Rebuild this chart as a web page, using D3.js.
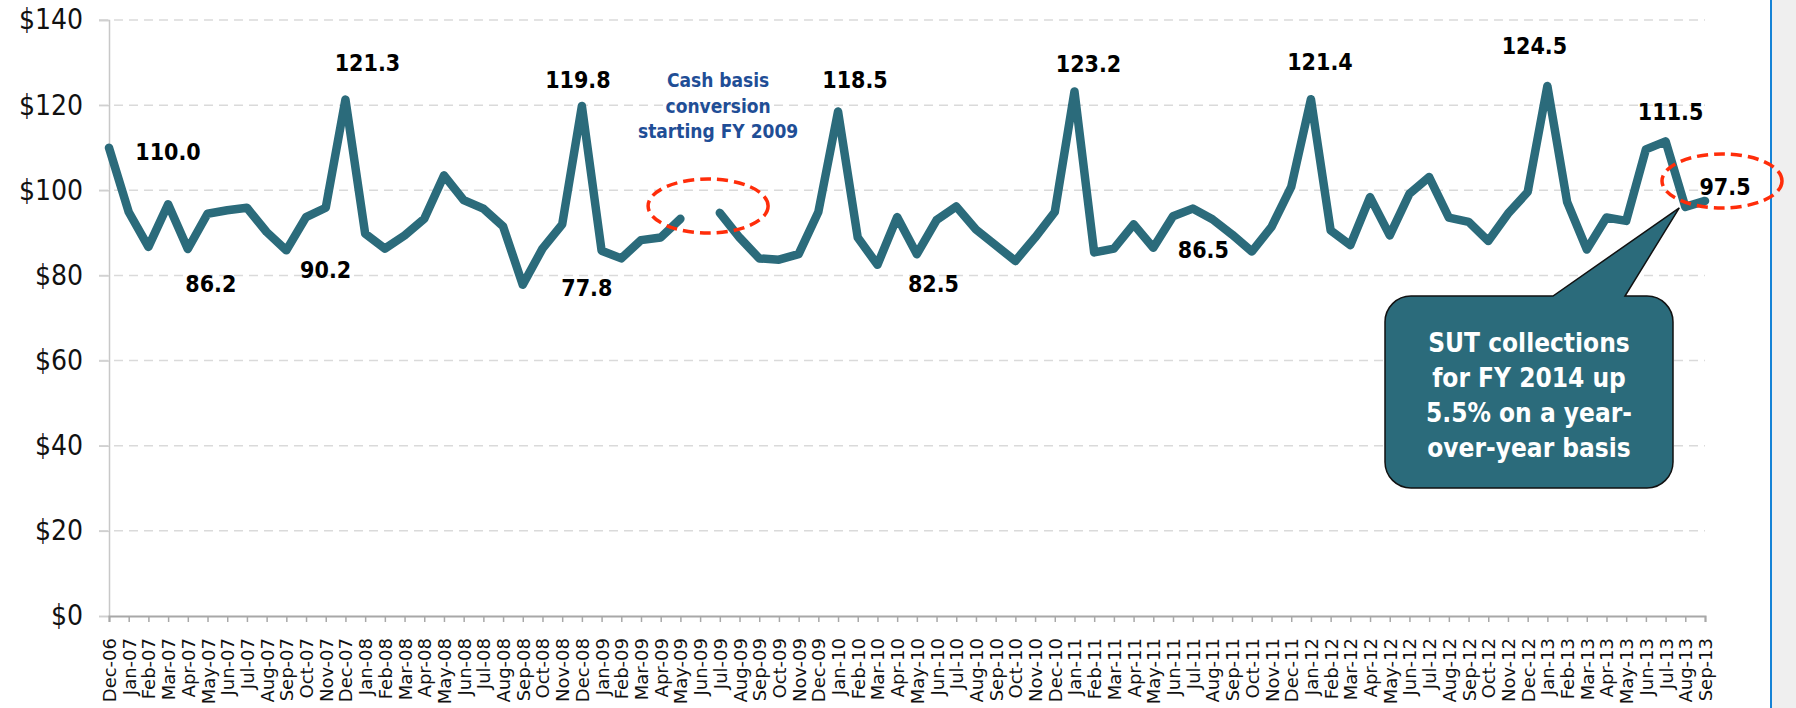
<!DOCTYPE html>
<html>
<head>
<meta charset="utf-8">
<script src="https://cdn.jsdelivr.net/npm/d3@7"></script>
<style>
  body { margin: 0; background: #fff; }
  #viz { width: 1796px; height: 708px; overflow: hidden; }
</style>
</head>
<body>
<div id="viz"></div>
<script>
// month categories (x axis)
const months = [
  "Dec-06",
  "Jan-07","Feb-07","Mar-07","Apr-07","May-07","Jun-07","Jul-07","Aug-07","Sep-07","Oct-07","Nov-07","Dec-07",
  "Jan-08","Feb-08","Mar-08","Apr-08","May-08","Jun-08","Jul-08","Aug-08","Sep-08","Oct-08","Nov-08","Dec-08",
  "Jan-09","Feb-09","Mar-09","Apr-09","May-09","Jun-09","Jul-09","Aug-09","Sep-09","Oct-09","Nov-09","Dec-09",
  "Jan-10","Feb-10","Mar-10","Apr-10","May-10","Jun-10","Jul-10","Aug-10","Sep-10","Oct-10","Nov-10","Dec-10",
  "Jan-11","Feb-11","Mar-11","Apr-11","May-11","Jun-11","Jul-11","Aug-11","Sep-11","Oct-11","Nov-11","Dec-11",
  "Jan-12","Feb-12","Mar-12","Apr-12","May-12","Jun-12","Jul-12","Aug-12","Sep-12","Oct-12","Nov-12","Dec-12",
  "Jan-13","Feb-13","Mar-13","Apr-13","May-13","Jun-13","Jul-13","Aug-13","Sep-13"
];

// monthly SUT collections ($ millions), null = gap at cash basis conversion
const collections = [
  110.0,
  94.9, 86.7, 96.7, 86.2, 94.5, 95.3, 95.9, 90.2, 85.9, 93.7, 95.9, 121.3,
  89.8, 86.3, 89.4, 93.3, 103.5, 97.7, 95.7, 91.5, 77.8, 86.3, 92.0, 119.8,
  85.8, 84.0, 88.3, 88.9, 93.3, null, 94.7, 88.9, 84.0, 83.7, 85.0, 94.9,
  118.5, 88.9, 82.5, 93.7, 85.0, 93.0, 96.2, 90.8, 87.1, 83.4, 88.9, 94.9,
  123.2, 85.4, 86.3, 92.0, 86.5, 93.9, 95.7, 93.2, 89.6, 85.6, 91.4, 100.8,
  121.4, 90.6, 87.1, 98.4, 89.4, 99.2, 103.1, 93.6, 92.6, 88.1, 94.5, 99.6,
  124.5, 97.3, 86.1, 93.6, 92.8, 109.6, 111.5, 96.1, 97.5
];

// y axis ticks
const yTicks = [0, 20, 40, 60, 80, 100, 120, 140];

// months that carry a value label
const labelledMonths = ["Dec-06","Apr-07","Aug-07","Dec-07","Sep-08","Dec-08","Jan-10","Mar-10",
                        "Jan-11","May-11","Jan-12","Jan-13","Jul-13","Sep-13"];

const noteLines = ["Cash basis", "conversion", "starting FY 2009"];
const calloutLines = ["SUT collections", "for FY 2014 up", "5.5% on a year-", "over-year basis"];

function renderChart() {
  const width = 1796, height = 708;
  const TEAL = "#2b6b7b";
  const RED = "#ff2d0a";

  const svg = d3.select("#viz").append("svg")
    .attr("width", width)
    .attr("height", height)
    .style("display", "block");

  // right edge panel (slide border)
  svg.append("rect").attr("x", 1772).attr("y", 0).attr("width", 24).attr("height", height).attr("fill", "#efefef");
  svg.append("line").attr("x1", 1771).attr("x2", 1771).attr("y1", 0).attr("y2", height)
    .attr("stroke", "#1583d6").attr("stroke-width", 2);

  const x = d3.scalePoint().domain(months).range([109, 1705]);
  const y = d3.scaleLinear().domain([0, 140]).range([616, 20]);

  // gridlines
  svg.append("g")
    .selectAll("line")
    .data(yTicks.slice(1))
    .join("line")
    .attr("x1", 99).attr("x2", 1705)
    .attr("y1", d => y(d)).attr("y2", d => y(d))
    .attr("stroke", "#dadada").attr("stroke-width", 1.5)
    .attr("stroke-dasharray", "9,6");

  // y axis
  const yAxis = svg.append("g")
    .attr("transform", "translate(109,0)")
    .call(d3.axisLeft(y).tickValues(yTicks).tickFormat(d => "$" + d).tickSize(10).tickPadding(16));
  yAxis.select(".domain").attr("stroke", "#c8c8c8").attr("stroke-width", 1.5);
  yAxis.selectAll(".tick line").attr("stroke", "#d0d0d0").attr("stroke-width", 1.5);
  yAxis.selectAll("text")
    .attr("font-family", "DejaVu Sans Condensed, DejaVu Sans, sans-serif")
    .attr("font-size", 28)
    .attr("fill", "#111");

  // x axis
  const xAxis = svg.append("g")
    .attr("transform", "translate(0,616)")
    .call(d3.axisBottom(x).tickSizeOuter(0).tickSize(6));
  xAxis.select(".domain").attr("stroke", "#a8a8a8").attr("stroke-width", 2);
  xAxis.selectAll(".tick line").attr("stroke", "#a8a8a8").attr("stroke-width", 1.5);
  xAxis.selectAll("text")
    .attr("font-family", "DejaVu Sans, sans-serif")
    .attr("font-size", 18)
    .attr("fill", "#111")
    .attr("text-anchor", "end")
    .attr("transform", "rotate(-90)")
    .attr("x", -22)
    .attr("y", 0)
    .attr("dy", "0.36em");

  // the line
  const pts = months.map((m, i) => ({ m, v: collections[i] }));
  const line = d3.line()
    .defined(d => d.v != null)
    .x(d => x(d.m))
    .y(d => y(d.v));

  svg.append("path")
    .datum(pts)
    .attr("d", line)
    .attr("fill", "none")
    .attr("stroke", TEAL)
    .attr("stroke-width", 8.5)
    .attr("stroke-linejoin", "round")
    .attr("stroke-linecap", "round");

  // value labels (offsets from their point)
  const offsets = {
    "Dec-06": [59, 12], "Apr-07": [23, 43], "Aug-07": [59, 46], "Dec-07": [22, -29],
    "Sep-08": [64, 11], "Dec-08": [-4, -18], "Jan-10": [17, -24], "Mar-10": [56, 27],
    "Jan-11": [14, -20], "May-11": [50, 10], "Jan-12": [9, -29], "Jan-13": [-13, -32],
    "Jul-13": [5, -21], "Sep-13": [20, -6]
  };
  svg.append("g")
    .selectAll("text")
    .data(labelledMonths)
    .join("text")
    .attr("x", m => x(m) + offsets[m][0])
    .attr("y", m => y(collections[months.indexOf(m)]) + offsets[m][1])
    .attr("text-anchor", "middle")
    .attr("font-family", "DejaVu Sans Condensed, DejaVu Sans, sans-serif")
    .attr("font-weight", "bold")
    .attr("font-size", 23)
    .attr("fill", "#000")
    .text(m => collections[months.indexOf(m)].toFixed(1));

  // red dashed ellipses
  const ellipses = [
    { cx: x("Jun-09") + 8, cy: y(96.3) },
    { cx: x("Sep-13") + 17, cy: y(102.2) }
  ];
  svg.append("g")
    .selectAll("ellipse")
    .data(ellipses)
    .join("ellipse")
    .attr("cx", d => d.cx).attr("cy", d => d.cy)
    .attr("rx", 60).attr("ry", 27)
    .attr("fill", "none")
    .attr("stroke", RED)
    .attr("stroke-width", 3.5)
    .attr("stroke-dasharray", "11,6");

  // cash basis note
  svg.append("text")
    .attr("x", x("Jun-09") + 18)
    .attr("y", 87)
    .attr("text-anchor", "middle")
    .attr("font-family", "DejaVu Sans Condensed, DejaVu Sans, sans-serif")
    .attr("font-weight", "bold")
    .attr("font-size", 19)
    .attr("fill", "#1f4e96")
    .selectAll("tspan")
    .data(noteLines)
    .join("tspan")
    .attr("x", x("Jun-09") + 18)
    .attr("dy", (d, i) => i === 0 ? 0 : 25.5)
    .text(d => d);

  // callout bubble pointing at Aug-13
  const bx0 = 1385, bx1 = 1673, by0 = 296, by1 = 488, r = 26;
  const tipX = x("Aug-13") - 6, tipY = y(collections[80]) + 1;
  const p = d3.path();
  p.moveTo(bx0 + r, by0);
  p.lineTo(1553, by0);
  p.lineTo(tipX, tipY);
  p.lineTo(1625, by0);
  p.lineTo(bx1 - r, by0);
  p.arcTo(bx1, by0, bx1, by0 + r, r);
  p.lineTo(bx1, by1 - r);
  p.arcTo(bx1, by1, bx1 - r, by1, r);
  p.lineTo(bx0 + r, by1);
  p.arcTo(bx0, by1, bx0, by1 - r, r);
  p.lineTo(bx0, by0 + r);
  p.arcTo(bx0, by0, bx0 + r, by0, r);
  p.closePath();
  svg.append("path")
    .attr("d", p.toString())
    .attr("fill", TEAL)
    .attr("stroke", "#111")
    .attr("stroke-width", 1.5);

  svg.append("g")
    .selectAll("text")
    .data(calloutLines)
    .join("text")
    .attr("x", (bx0 + bx1) / 2)
    .attr("y", (d, i) => 352 + i * 35)
    .attr("text-anchor", "middle")
    .attr("font-family", "DejaVu Sans Condensed, DejaVu Sans, sans-serif")
    .attr("font-weight", "bold")
    .attr("font-size", 26)
    .attr("fill", "#fff")
    .text(d => d);
}

renderChart();
</script>
</body>
</html>
